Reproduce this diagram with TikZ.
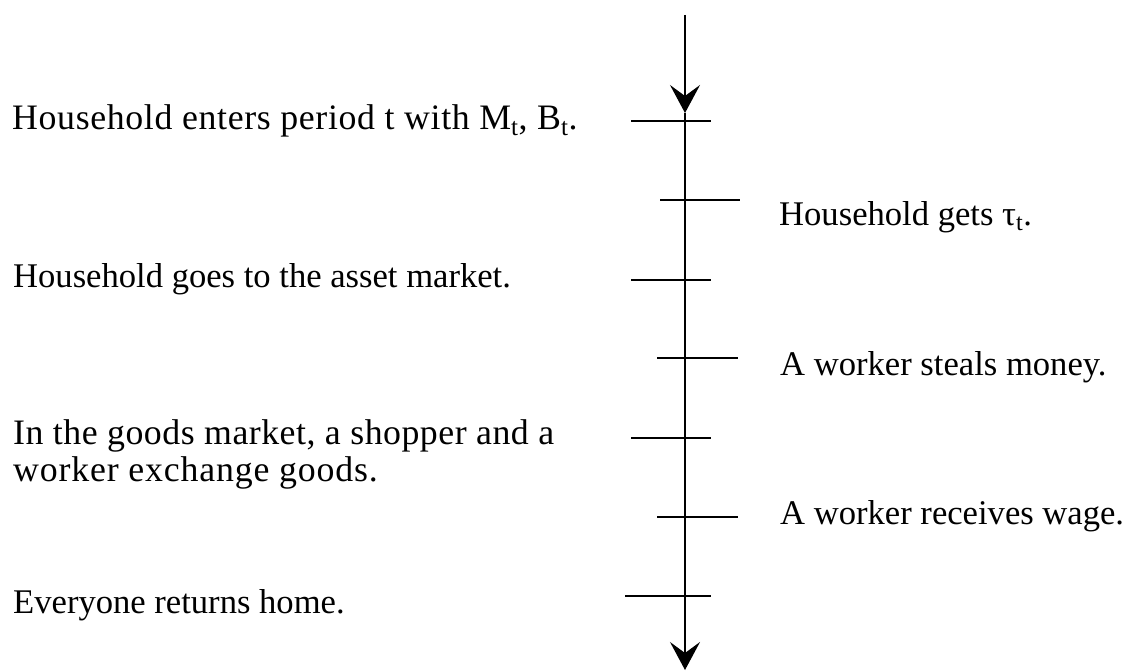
\documentclass[tikz,border=0pt]{standalone}
\usepackage{fontspec}
\setmainfont{Liberation Serif}
\usetikzlibrary{arrows.meta}
\begin{document}
\begin{tikzpicture}[x=1pt,y=-1pt,
  lbl/.style={anchor=base west,inner sep=0pt,font=\fontsize{34.6}{37}\selectfont},
  widelbl/.style={lbl,font=\fontsize{35.8}{37}\selectfont\addfontfeature{LetterSpace=#1}},
  tick/.style={line width=1.5pt},
  axis/.style={line width=1.5pt},
  tip/.style={-{Stealth[length=28pt,width=30pt,inset=11pt]}}]
\useasboundingbox (0,0) rectangle (1131,671);
% axis
\coordinate (top) at (685,15);
\coordinate (a1) at (685,113);
\coordinate (bot) at (685,670);
\draw[axis,tip] (top) -- (a1);
\draw[axis,tip] (a1) -- (bot);
% ticks
\coordinate (t1l) at (631,121); \coordinate (t1r) at (711,121);
\coordinate (t2l) at (660,200); \coordinate (t2r) at (740,200);
\coordinate (t3l) at (631,280); \coordinate (t3r) at (711,280);
\coordinate (t4l) at (657,358); \coordinate (t4r) at (738,358);
\coordinate (t5l) at (631,438); \coordinate (t5r) at (711,438);
\coordinate (t6l) at (657,517); \coordinate (t6r) at (738,517);
\coordinate (t7l) at (625,596); \coordinate (t7r) at (711,596);
\foreach \i in {1,...,7} {\draw[tick] (t\i l) -- (t\i r);}
% left labels
\node[widelbl=1.8] (l1) at (12,130) {Household enters period t with M\textsubscript{t}, B\textsubscript{t}.};
\node[lbl] (l2) at (13,287) {Household goes to the asset market.};
\node[widelbl=1.4] (l3a) at (13,444) {In the goods market, a shopper and a};
\node[widelbl=2.3] (l3b) at (13,481) {worker exchange goods.};
\node[lbl] (l4) at (13,613) {Everyone returns home.};
% right labels
\node[lbl] (r1) at (779,225) {Household gets τ\textsubscript{t}.};
\node[lbl] (r2) at (780,375) {A worker steals money.};
\node[lbl] (r3) at (780,524) {A worker receives wage.};
\end{tikzpicture}
\end{document}
